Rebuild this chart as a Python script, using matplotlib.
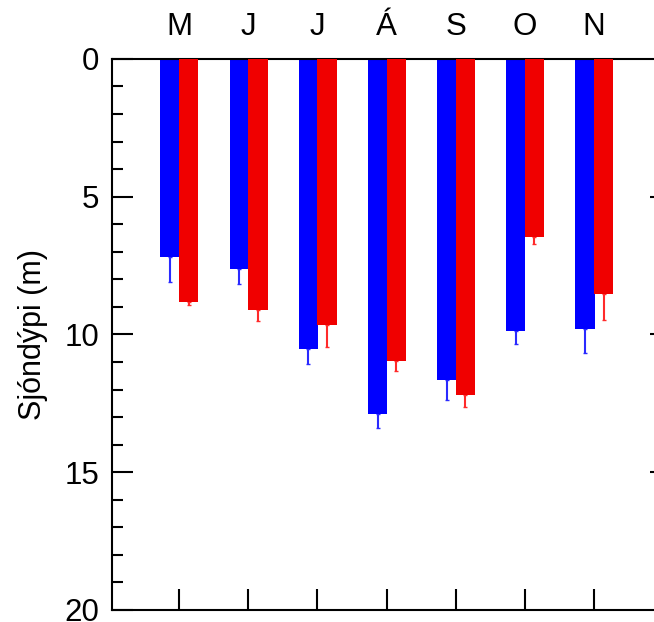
"""
Sjóndýpi eftir mánuðum - súlurit
"""
import matplotlib
matplotlib.use('Agg')
import matplotlib.pyplot as plt
import numpy as np
from matplotlib.ticker import MultipleLocator

# gögn
months = ['M', 'J', 'J', 'Á', 'S', 'O', 'N']
blue_depth = [7.20, 7.63, 10.53, 12.89, 11.65, 9.86, 9.80]
blue_err = [0.91, 0.55, 0.54, 0.51, 0.73, 0.48, 0.86]
red_depth = [8.81, 9.11, 9.66, 10.96, 12.20, 6.47, 8.53]
red_err = [0.12, 0.42, 0.78, 0.36, 0.42, 0.25, 0.94]

plt.rcParams['font.family'] = ['Liberation Sans', 'DejaVu Sans']

x = np.arange(1, len(months) + 1)
w = 0.28

fig = plt.figure(figsize=(6.54, 6.22), dpi=100)
ax = fig.add_axes([0.1713, 0.0193, 0.832, 0.886])

ax.bar(x - 0.13, blue_depth, w, color='#0000ff', zorder=2)
ax.bar(x + 0.14, red_depth, w, color='#f00000', zorder=3)
ax.errorbar(x - 0.13, blue_depth, yerr=[np.zeros(len(x)), blue_err],
            fmt='none', ecolor='#2a2aff', elinewidth=1.5, capsize=1.5, zorder=1)
ax.errorbar(x + 0.14, red_depth, yerr=[np.zeros(len(x)), red_err],
            fmt='none', ecolor='#ff2a2a', elinewidth=1.5, capsize=1.5, zorder=1)

ax.set_xlim(0.03, 7.9)
ax.set_ylim(20, 0)

# x: mánuðir efst, stuttir strik neðst
ax.set_xticks(x)
ax.set_xticklabels(months)
ax.tick_params(axis='x', bottom=True, top=False, labelbottom=False,
               labeltop=True, direction='in', length=15, width=1.5,
               pad=12, labelsize=22.5)

# y: dýpi
ax.yaxis.set_major_locator(MultipleLocator(5))
ax.yaxis.set_minor_locator(MultipleLocator(1))
ax.tick_params(axis='y', which='major', left=True, right=False,
               direction='in', length=15, width=1.5, pad=9, labelsize=22.5)
ax.tick_params(axis='y', which='minor', left=True, right=False,
               direction='in', length=8, width=1.5)

# hægri: aðeins stutt strik, engin lína
for yv in [5, 10, 15]:
    ax.plot([1, 0.988], [yv, yv], transform=ax.get_yaxis_transform(),
            color='black', lw=1.5, clip_on=False, solid_capstyle='butt')

ax.set_ylabel('Sjóndýpi (m)', fontsize=22)
ax.yaxis.set_label_coords(-0.117, 0.5)

for spine in ax.spines.values():
    spine.set_linewidth(1.5)
ax.spines['right'].set_visible(False)

fig.savefig('out.png', dpi=100)
plt.close(fig)
